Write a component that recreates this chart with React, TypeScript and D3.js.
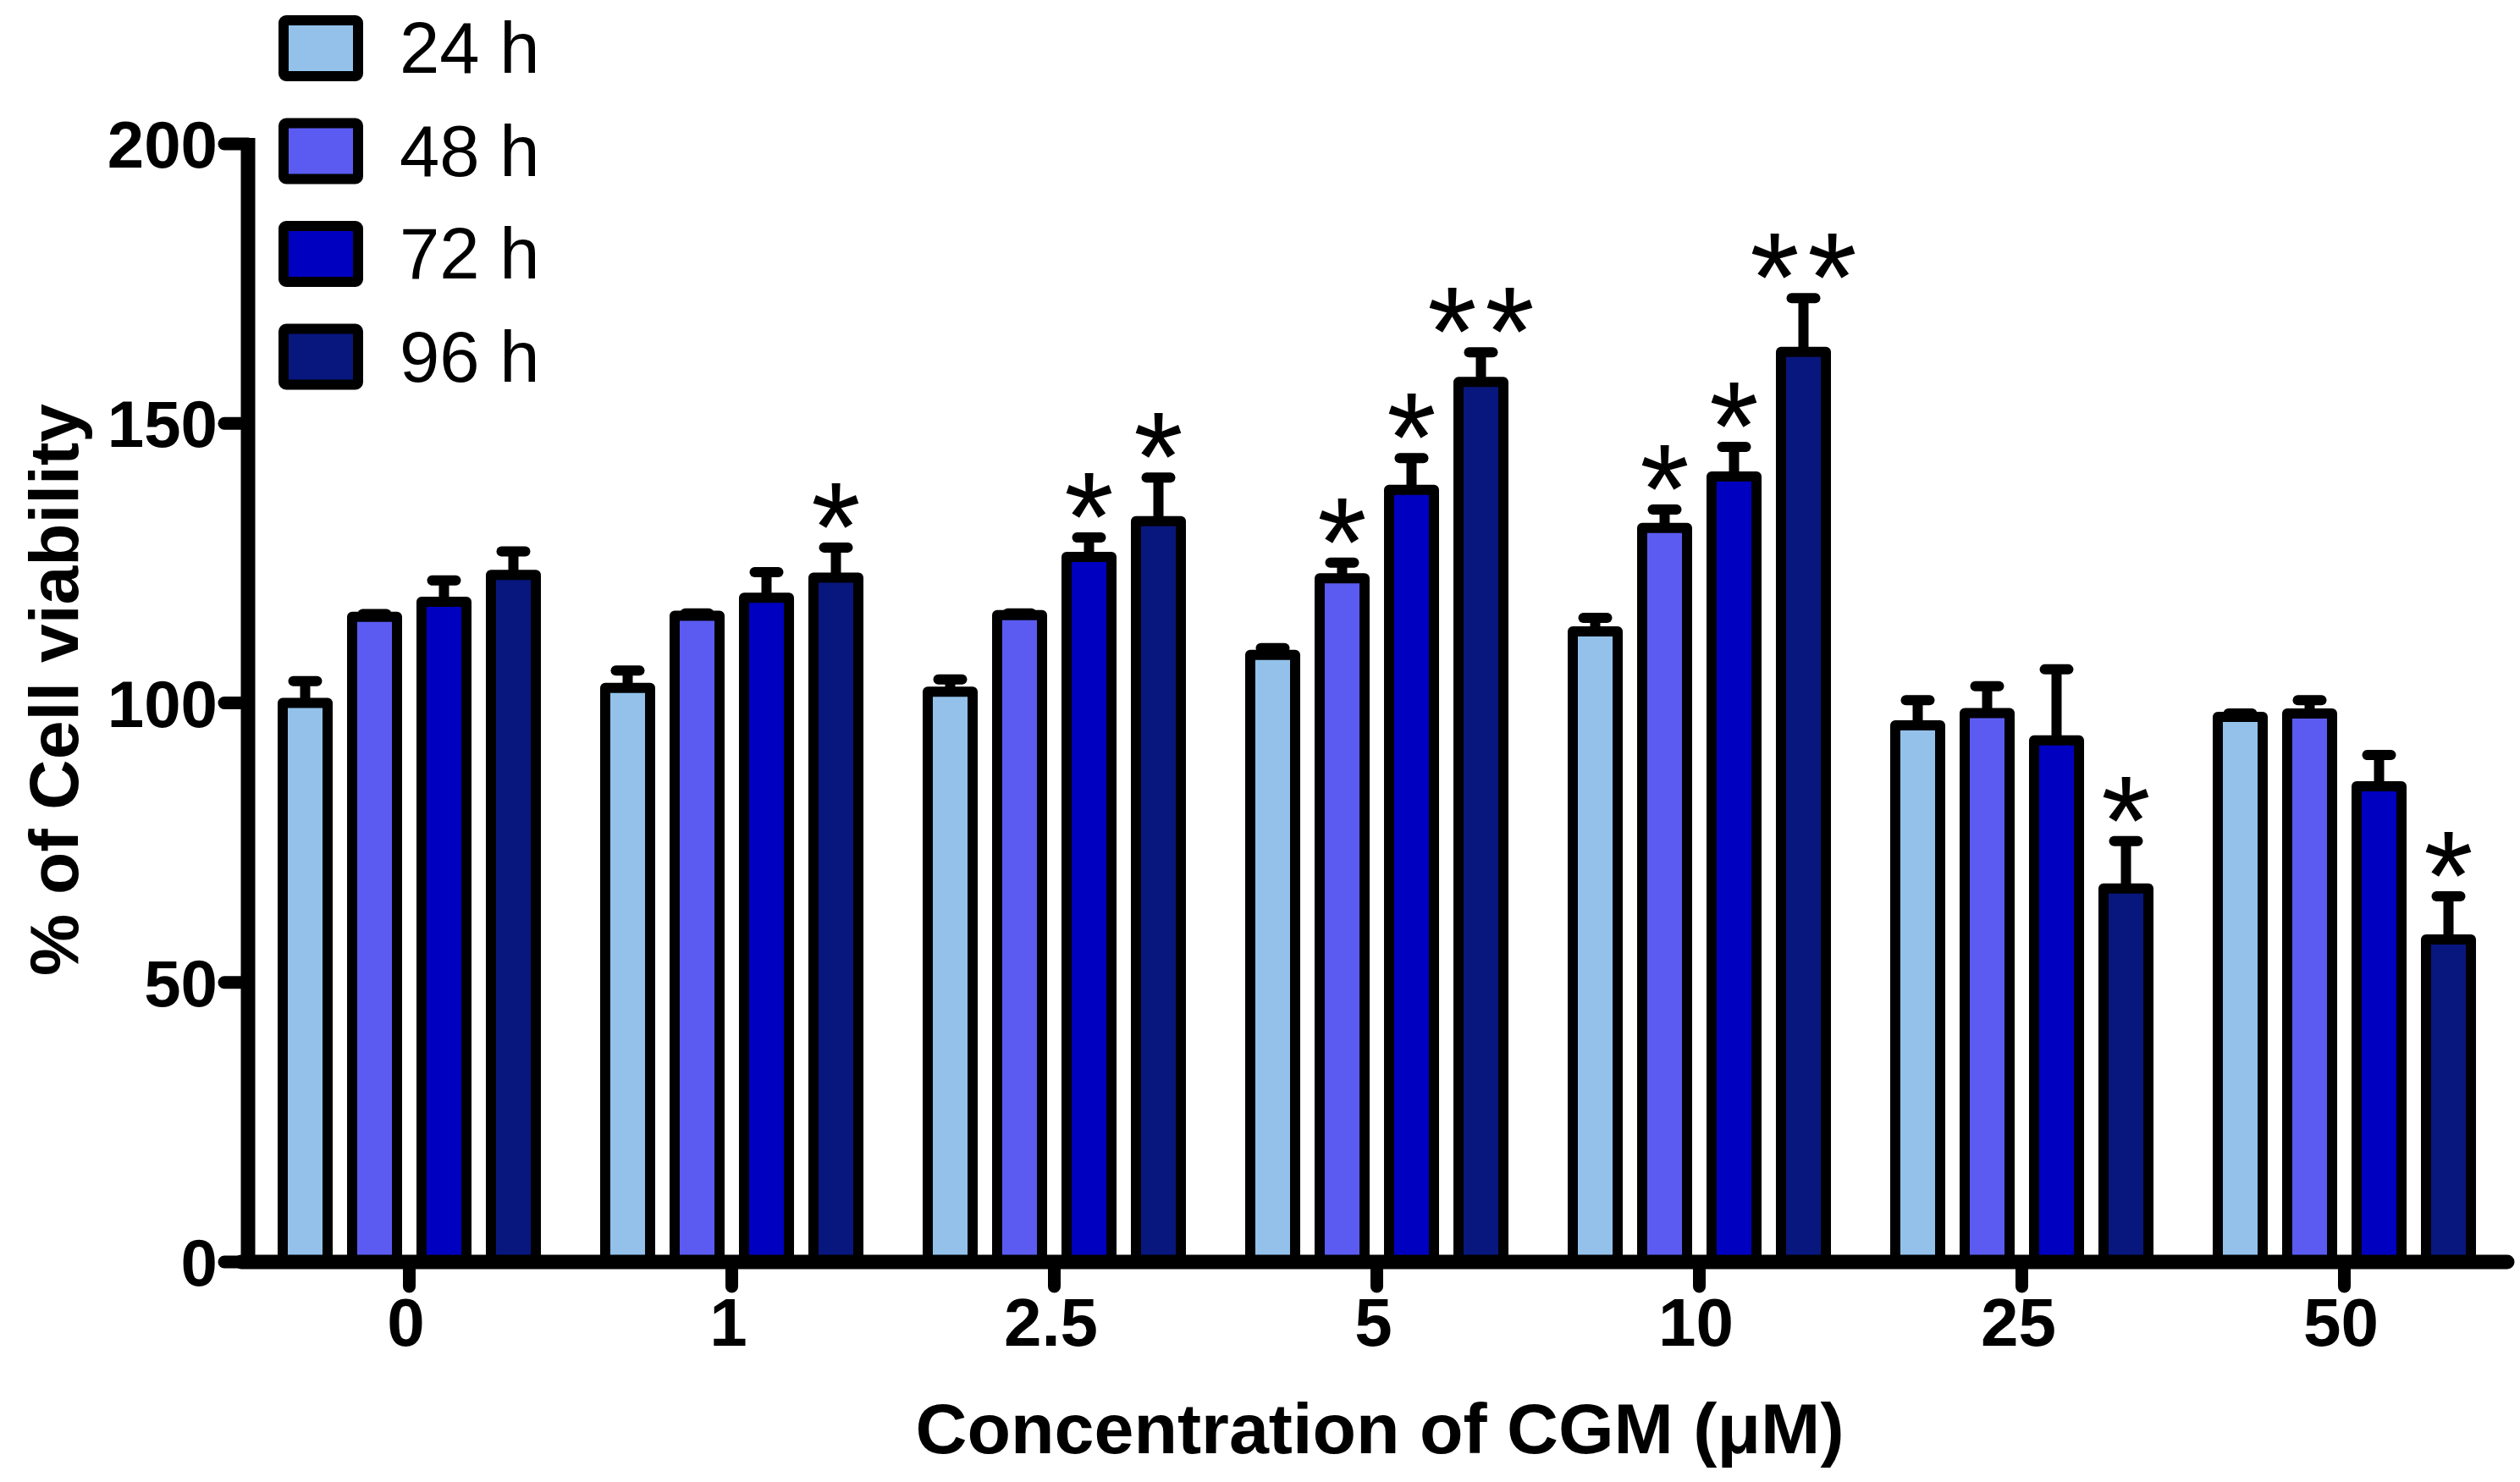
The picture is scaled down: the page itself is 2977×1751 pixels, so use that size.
import React from "react";
import * as d3 from "d3";

const categories = ["0", "1", "2.5", "5", "10", "25", "50"];
const seriesNames = ["24 h", "48 h", "72 h", "96 h"];
const values24 = [100, 102.7, 102.0, 108.6, 112.8, 96.0, 97.5];
const values48 = [115.4, 115.6, 115.7, 122.3, 131.3, 98.2, 98.1];
const values72 = [118.1, 118.8, 126.1, 138.1, 140.5, 93.3, 85.1];
const values96 = [122.9, 122.4, 132.5, 157.4, 162.8, 66.8, 57.7];
const err24 = [3.9, 3.1, 2.2, 1.2, 2.4, 4.5, 0.6];
const err48 = [0.5, 0.4, 0.3, 2.8, 3.3, 4.8, 2.4];
const err72 = [3.8, 4.6, 3.5, 5.7, 5.3, 12.7, 5.6];
const err96 = [4.2, 5.4, 7.8, 5.3, 9.6, 8.5, 7.7];
const sig24 = ["", "", "", "", "", "", ""];
const sig48 = ["", "", "", "*", "*", "", ""];
const sig72 = ["", "", "*", "*", "*", "", ""];
const sig96 = ["", "*", "*", "**", "**", "*", "*"];
const yTicks = [0, 50, 100, 150, 200];
const colors = ["#93C1EA", "#5B5BF2", "#0000C0", "#08177E"];

const seriesValues = [values24, values48, values72, values96];
const seriesErr = [err24, err48, err72, err96];
const seriesSig = [sig24, sig48, sig72, sig96];

const W = 2977;
const H = 1751;
const FONT = "'Liberation Sans', Arial, Helvetica, sans-serif";

export default function App() {
  const axisX = 293;
  const axisY = 1491;
  const y = d3.scaleLinear().domain([0, 200]).range([axisY, 170]);
  const x = d3.scaleBand<string>().domain(categories).range([axisX, 2960]).padding(0);
  const xs = d3
    .scaleBand<string>()
    .domain(seriesNames)
    .range([-164, 164])
    .paddingInner(0.207)
    .paddingOuter(0.1035);
  const sw = 12;

  const bars: React.ReactNode[] = [];
  const errs: React.ReactNode[] = [];
  const stars: React.ReactNode[] = [];
  categories.forEach((c, ci) => {
    const cx = (x(c) as number) + x.bandwidth() / 2;
    seriesNames.forEach((s, si) => {
      const v = seriesValues[si][ci];
      const e = seriesErr[si][ci];
      const bx = cx + (xs(s) as number);
      const bw = xs.bandwidth();
      const mid = bx + bw / 2;
      const yCap = y(v + e);
      errs.push(
        <g key={`e-${ci}-${si}`} stroke="#000" strokeWidth={12} strokeLinecap="round">
          <line x1={mid} x2={mid} y1={y(v)} y2={yCap} strokeLinecap="butt" />
          <line x1={mid - 14} x2={mid + 14} y1={yCap} y2={yCap} />
        </g>
      );
      bars.push(
        <rect
          key={`b-${ci}-${si}`}
          x={bx + sw / 2}
          y={y(v)}
          width={bw - sw}
          height={y(0) - y(v)}
          fill={colors[si]}
          stroke="#000"
          strokeWidth={sw}
          strokeLinejoin="round"
        />
      );
      const sig = seriesSig[si][ci];
      const n = sig.length;
      for (let k = 0; k < n; k++) {
        const off = (k - (n - 1) / 2) * 68;
        stars.push(
          <text
            key={`s-${ci}-${si}-${k}`}
            x={mid + off}
            y={yCap + 28}
            textAnchor="middle"
            fontFamily={FONT}
            fontSize={150}
            fill="#000"
          >
            *
          </text>
        );
      }
    });
  });

  return (
    <svg
      width={W}
      height={H}
      viewBox={`0 0 ${W} ${H}`}
      style={{ position: "absolute", left: 0, top: 0, background: "#fff" }}
    >
      <rect x={0} y={0} width={W} height={H} fill="#fff" />
      {/* Legend */}
      {seriesNames.map((s, i) => {
        const cy = 57 + i * 121.5;
        return (
          <g key={`lg-${i}`}>
            <rect
              x={335}
              y={cy - 33}
              width={88}
              height={66}
              fill={colors[i]}
              stroke="#000"
              strokeWidth={12}
              rx={3}
            />
            <text x={472} y={cy + 29} fontFamily={FONT} fontSize={85} fill="#000">
              {s}
            </text>
          </g>
        );
      })}
      {errs}
      {bars}
      {stars}
      {/* Y axis */}
      <line x1={axisX} x2={axisX} y1={y(200) - 7} y2={axisY} stroke="#000" strokeWidth={17} />
      {yTicks.map((t) => (
        <g key={`yt-${t}`}>
          <line x1={265} x2={axisX} y1={y(t)} y2={y(t)} stroke="#000" strokeWidth={15} strokeLinecap="round" />
          <text
            x={257}
            y={y(t) + 28}
            textAnchor="end"
            fontFamily={FONT}
            fontWeight="bold"
            fontSize={78}
            fill="#000"
          >
            {t}
          </text>
        </g>
      ))}
      {/* X axis */}
      <line x1={axisX - 8} x2={2962} y1={axisY} y2={axisY} stroke="#000" strokeWidth={17} strokeLinecap="round" />
      {categories.map((c) => {
        const cx = (x(c) as number) + x.bandwidth() / 2;
        return (
          <g key={`xt-${c}`}>
            <line x1={cx} x2={cx} y1={axisY} y2={1520} stroke="#000" strokeWidth={15} strokeLinecap="round" />
            <text
              x={cx - 4}
              y={1590}
              textAnchor="middle"
              fontFamily={FONT}
              fontWeight="bold"
              fontSize={80}
              fill="#000"
            >
              {c}
            </text>
          </g>
        );
      })}
      <text
        x={1630}
        y={1717}
        textAnchor="middle"
        fontFamily={FONT}
        fontWeight="bold"
        fontSize={84}
        textLength={1097}
        lengthAdjust="spacingAndGlyphs"
        fill="#000"
      >
        Concentration of CGM (μM)
      </text>
      <text
        transform={`translate(92, 815) rotate(-90)`}
        textAnchor="middle"
        fontFamily={FONT}
        fontWeight="bold"
        fontSize={82}
        textLength={676}
        lengthAdjust="spacingAndGlyphs"
        fill="#000"
      >
        % of Cell viability
      </text>
    </svg>
  );
}
